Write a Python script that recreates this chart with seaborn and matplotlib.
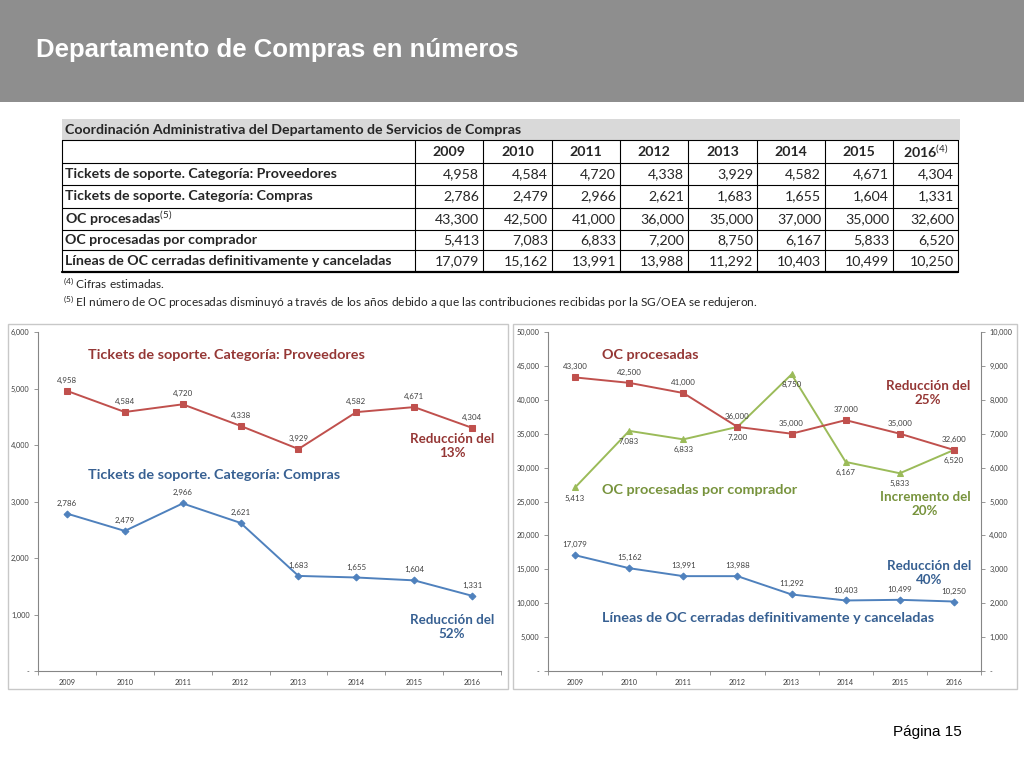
import numpy as np
import matplotlib
matplotlib.use("Agg")
import matplotlib.pyplot as plt
from matplotlib.patches import Rectangle
from matplotlib.lines import Line2D
from matplotlib.ticker import MultipleLocator, FuncFormatter
import seaborn as sns

# ---- data ----
years = ["2009", "2010", "2011", "2012", "2013", "2014", "2015", "2016"]
tickets_proveedores = [4958, 4584, 4720, 4338, 3929, 4582, 4671, 4304]
tickets_compras = [2786, 2479, 2966, 2621, 1683, 1655, 1604, 1331]
oc_procesadas = [43300, 42500, 41000, 36000, 35000, 37000, 35000, 32600]
oc_por_comprador = [5413, 7083, 6833, 7200, 8750, 6167, 5833, 6520]
lineas_oc = [17079, 15162, 13991, 13988, 11292, 10403, 10499, 10250]

table_title = "Coordinación Administrativa del Departamento de Servicios de Compras"
row_labels = [
    "Tickets de soporte. Categoría: Proveedores",
    "Tickets de soporte. Categoría: Compras",
    "OC procesadas$^{(5)}$",
    "OC procesadas por comprador",
    "Líneas de OC cerradas definitivamente y canceladas",
]
row_values = [tickets_proveedores, tickets_compras, oc_procesadas,
              oc_por_comprador, lineas_oc]
header_labels = years[:-1] + [years[-1] + "$^{(4)}$"]
notes = ["$^{(4)}$ Cifras estimadas.",
         "$^{(5)}$ El número de OC procesadas disminuyó a través de los años "
         "debido a que las contribuciones recibidas por la SG/OEA se redujeron."]

RED, BLUE, GREEN = "#C0504D", "#4F81BD", "#9BBB59"
RED_T, BLUE_T, GREEN_T = "#953735", "#376092", "#77933C"
AXIS_C = "#868686"

sns.set_theme(style="white")
plt.rcParams["font.family"] = ["Lato", "DejaVu Sans"]
plt.rcParams["mathtext.fontset"] = "custom"
plt.rcParams["mathtext.rm"] = "Lato"
plt.rcParams["mathtext.it"] = "Lato"
plt.rcParams["mathtext.bf"] = "Lato:bold"

W, H = 1024, 768
TABLE_FS = 10.2
NOTE_FS = 10.4


def fx(px):
    return px / W


def fy(py):
    return 1 - py / H


def hline(fig, y, x0, x1, lw=0.8, color="black"):
    fig.add_artist(Line2D([fx(x0), fx(x1)], [fy(y), fy(y)], lw=lw, color=color,
                          transform=fig.transFigure))


def vline(fig, x, y0, y1, lw=0.8, color="black"):
    fig.add_artist(Line2D([fx(x), fx(x)], [fy(y0), fy(y1)], lw=lw, color=color,
                          transform=fig.transFigure))


fig = plt.figure(figsize=(10.24, 7.68), dpi=100)

# header band
fig.add_artist(Rectangle((0, fy(102)), 1, 102 / H, transform=fig.transFigure,
                         facecolor="#8e8e8e", edgecolor="none", zorder=0))
fig.text(fx(36), fy(50), "Departamento de Compras en números", color="white",
         fontsize=18.5, fontweight="bold", family="Liberation Sans", va="center")

# ---- table ----
col_edges = [62, 415, 483, 552, 620, 688, 757, 825, 893, 958]
row_edges = [140, 163, 185, 208, 230, 250, 272]
fig.add_artist(Rectangle((fx(62), fy(140)), fx(960) - fx(62), (140 - 119) / H,
                         transform=fig.transFigure, facecolor="#d9d9d9",
                         edgecolor="none"))
fig.text(fx(65), fy(130), table_title, fontsize=TABLE_FS, fontweight="bold",
         va="center")
for y in row_edges[:-1]:
    hline(fig, y, col_edges[0], col_edges[-1])
hline(fig, row_edges[-1], col_edges[0], col_edges[-1], lw=1.6)
for x in col_edges:
    vline(fig, x, row_edges[0], row_edges[-1])

hy = (row_edges[0] + row_edges[1]) / 2
for j, lab in enumerate(header_labels):
    cx = (col_edges[j + 1] + col_edges[j + 2]) / 2
    fig.text(fx(cx), fy(hy), lab, fontsize=TABLE_FS, fontweight="bold",
             ha="center", va="center")
for i, (lab, vals) in enumerate(zip(row_labels, row_values)):
    cy = (row_edges[i + 1] + row_edges[i + 2]) / 2
    fig.text(fx(65), fy(cy), lab, fontsize=TABLE_FS, fontweight="bold",
             va="center")
    for j, v in enumerate(vals):
        fig.text(fx(col_edges[j + 2] - 4), fy(cy), f"{v:,}", fontsize=TABLE_FS,
                 ha="right", va="center")
fig.text(fx(63), fy(283), notes[0], fontsize=8.6, va="center")
fig.text(fx(63), fy(302), notes[1], fontsize=8.6, va="center")

# chart frames
for (x0, x1) in [(8, 508), (513, 1017)]:
    fig.add_artist(Rectangle((fx(x0), fy(689)), fx(x1) - fx(x0), (689 - 324) / H,
                             transform=fig.transFigure, facecolor="none",
                             edgecolor="#c8c8c8", lw=1))


def thousands(v, pos):
    return "-" if v == 0 else f"{v:,.0f}"


def style_axis(ax, ymax, step, right=False):
    ax.set_ylim(0, ymax)
    ax.yaxis.set_major_locator(MultipleLocator(step))
    ax.yaxis.set_major_formatter(FuncFormatter(thousands))
    ax.set_xlim(-0.5, 7.5)
    ax.set_xlabel("")
    ax.set_ylabel("")
    for s in ax.spines.values():
        s.set_visible(False)
    side = "right" if right else "left"
    ax.spines[side].set_visible(True)
    ax.spines[side].set_color(AXIS_C)
    ax.spines[side].set_linewidth(0.8)
    ax.tick_params(axis="y", which="major", direction="out", length=3, width=0.6,
                   color=AXIS_C, labelsize=5.3, pad=3,
                   left=not right, right=right, labelleft=not right,
                   labelright=right, labelcolor="#404040")
    if not right:
        ax.spines["bottom"].set_visible(True)
        ax.spines["bottom"].set_color(AXIS_C)
        ax.spines["bottom"].set_linewidth(0.8)
        ax.set_xticks(range(len(years)))
        ax.set_xticklabels(years)
        ax.set_xticks(np.arange(-0.5, len(years), 1), minor=True)
        ax.tick_params(axis="x", which="major", length=0, labelsize=5.3, pad=6,
                       labelcolor="#404040")
        ax.tick_params(axis="x", which="minor", bottom=True, direction="out",
                       length=3, width=0.6, color=AXIS_C)
    ax.set_facecolor("none")


def series(ax, vals, color, marker, ms, dy):
    sns.lineplot(x=years, y=vals, ax=ax, color=color, marker=marker,
                 markersize=ms, markeredgecolor=color, linewidth=1.4, sort=False)
    for i, v in enumerate(vals):
        ax.annotate(f"{v:,}", (i, v), xytext=(0, dy), textcoords="offset points",
                    ha="center", va="bottom" if dy > 0 else "top",
                    fontsize=5.7, color="#404040")


def note(x, y, text, color, ha="left", fs=NOTE_FS):
    fig.text(fx(x), fy(y), text, color=color, fontsize=fs, fontweight="bold",
             ha=ha, va="center", linespacing=1.2)


# ---- left chart ----
ax1 = fig.add_axes([fx(38), fy(671), (501 - 38) / W, (671 - 332) / H])
series(ax1, tickets_proveedores, RED, "s", 5, 5)
series(ax1, tickets_compras, BLUE, "D", 3.5, 5)
style_axis(ax1, 6000, 1000)

note(88, 355, "Tickets de soporte. Categoría: Proveedores", RED_T)
note(88, 475, "Tickets de soporte. Categoría: Compras", BLUE_T)
note(452, 446, "Reducción del\n13%", RED_T, ha="center", fs=9.6)
note(452, 627, "Reducción del\n52%", BLUE_T, ha="center", fs=9.6)

# ---- right chart ----
ax2 = fig.add_axes([fx(548), fy(671), (981 - 548) / W, (671 - 332) / H])
ax3 = ax2.twinx()
series(ax3, oc_por_comprador, GREEN, "^", 4.5, -5)
series(ax2, oc_procesadas, RED, "s", 5, 5)
series(ax2, lineas_oc, BLUE, "D", 3.5, 5)
style_axis(ax2, 50000, 5000)
style_axis(ax3, 10000, 1000, right=True)
ax2.set_zorder(ax3.get_zorder() + 1)

note(602, 355, "OC procesadas", RED_T)
note(602, 490, "OC procesadas por comprador", GREEN_T)
note(602, 618, "Líneas de OC cerradas definitivamente y canceladas", BLUE_T)
note(928, 393, "Reducción del\n25%", RED_T, ha="center", fs=9.6)
note(925, 504, "Incremento del\n20%", GREEN_T, ha="center", fs=9.6)
note(929, 573, "Reducción del\n40%", BLUE_T, ha="center", fs=9.6)

# footer
fig.text(fx(962), fy(732), "Página 15", fontsize=11, family="Liberation Sans",
         ha="right", va="center", color="black")

fig.savefig("out.png", dpi=100)
